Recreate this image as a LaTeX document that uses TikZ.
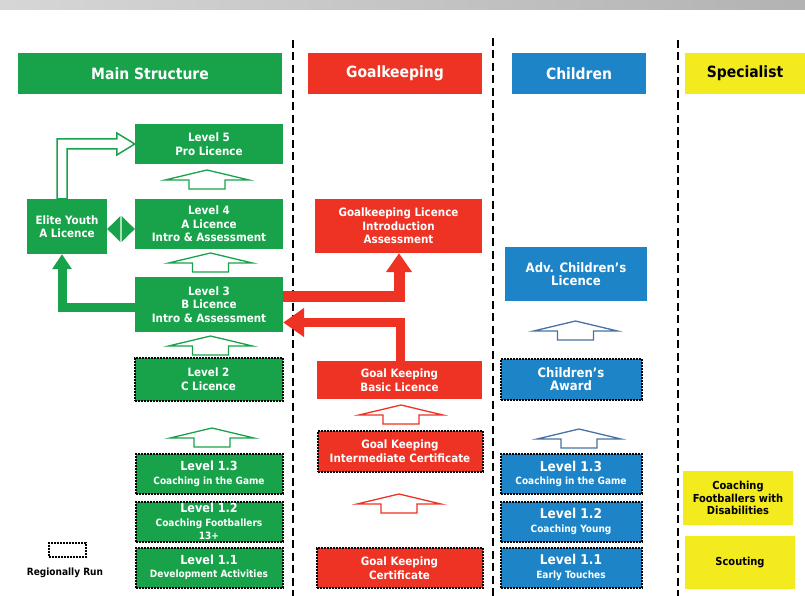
\documentclass[tikz,border=0pt]{standalone}
\usepackage{fontspec}
\setmainfont{DejaVu Sans Condensed}
\usetikzlibrary{arrows.meta,calc}
\definecolor{gcol}{RGB}{24,163,74}
\definecolor{rcol}{RGB}{238,50,36}
\definecolor{bcol}{RGB}{28,132,199}
\definecolor{ycol}{RGB}{243,235,30}
\definecolor{barrow}{RGB}{70,115,165}
\newcommand{\smtxt}{\fontsize{10}{11.5}\selectfont}
\newcommand{\bigtxt}{\fontsize{13}{14.5}\selectfont}
\tikzset{
  box/.style={rectangle, inner sep=0pt, align=center, text=white,
    font=\bfseries\fontsize{11.5}{13.5}\selectfont},
  gbox/.style={box, fill=gcol},
  rbox/.style={box, fill=rcol},
  bbox/.style={box, fill=bcol},
  ybox/.style={box, fill=ycol, text=black},
  reg/.style={draw=black, line width=2pt, dash pattern=on 2pt off 1pt},
  hdr/.style={rectangle, inner sep=0pt, minimum height=41pt, text=white,
    font=\bfseries\fontsize{15.5}{18}\selectfont},
  sepline/.style={line width=2.4pt, dash pattern=on 8pt off 4.5pt},
  uparr/.pic={\draw[line width=1.3pt, fill=white, line join=miter]
    (0,0) -- (42,10) -- (18,10) -- (18,19) -- (-18,19) -- (-18,10) -- (-42,10) -- cycle;}
}
\begin{document}
\begin{tikzpicture}[x=1pt,y=-1pt]
\useasboundingbox (0,0) rectangle (805,596);
% top bar
\shade[left color=gray!32, right color=gray!60] (0,0) rectangle (805,9.5);
% separators
\draw[sepline] (293,40) -- (293,596);
\draw[sepline] (493,38) -- (493,596);
\draw[sepline] (678,40) -- (678,596);
% headers
\node[hdr, fill=gcol, minimum width=264pt] (HM) at (150,73.5) {Main Structure};
\node[hdr, fill=rcol, minimum width=174pt] (HG) at (395,73.5) {Goalkeeping};
\node[hdr, fill=bcol, minimum width=134pt] (HC) at (579,73.5) {Children};
\node[hdr, fill=ycol, minimum width=120pt, text=black] (HS) at (745,73.5) {Specialist};
% main structure
\node[gbox, minimum width=148pt, minimum height=40pt] (L5) at (209,144) {Level 5\\Pro Licence};
\node[gbox, minimum width=148pt, minimum height=50pt] (L4) at (209,224) {Level 4\\A Licence\\Intro \& Assessment};
\node[gbox, minimum width=148pt, minimum height=55pt] (L3) at (209,304.5) {Level 3\\B Licence\\Intro \& Assessment};
\node[gbox, minimum width=80pt, minimum height=55pt] (EY) at (67,226.5) {Elite Youth\\A Licence};
\node[gbox, reg, minimum width=148pt, minimum height=43pt] (L2) at (208.5,379) {Level 2\\C Licence};
\node[gbox, reg, minimum width=147pt, minimum height=40pt] (L13) at (209,474) {{\fontsize{12.5}{14}\selectfont Level 1.3}\\{\smtxt Coaching in the Game}};
\node[gbox, reg, minimum width=147pt, minimum height=40pt] (L12) at (209,521.5) {{\fontsize{12.5}{13}\selectfont Level 1.2}\\{\smtxt Coaching Footballers}\\{\smtxt 13+}};
\node[gbox, reg, minimum width=147pt, minimum height=40pt] (L11) at (209,567.5) {{\fontsize{12.5}{14}\selectfont Level 1.1}\\{\smtxt Development Activities}};
% goalkeeping
\node[rbox, minimum width=167pt, minimum height=54pt] (GKL) at (398.5,226) {Goalkeeping Licence\\Introduction\\Assessment};
\node[rbox, minimum width=165pt, minimum height=38pt] (GKB) at (399.5,380) {Goal Keeping\\Basic Licence};
\node[rbox, reg, minimum width=165pt, minimum height=41pt] (GKI) at (400,451) {Goal Keeping\\Intermediate Certificate};
\node[rbox, reg, minimum width=166pt, minimum height=40pt] (GKC) at (399.5,568) {Goal Keeping\\Certificate};
% children
\node[bbox, minimum width=142pt, minimum height=54pt] (ADV) at (576,274) {{\bigtxt Adv. Children’s}\\{\bigtxt Licence}};
\node[bbox, reg, minimum width=141pt, minimum height=41pt] (AW) at (571,379) {{\bigtxt Children’s}\\{\bigtxt Award}};
\node[bbox, reg, minimum width=141pt, minimum height=40pt] (C13) at (571,474) {{\fontsize{13.5}{15}\selectfont Level 1.3}\\{\smtxt Coaching in the Game}};
\node[bbox, reg, minimum width=141pt, minimum height=40pt] (C12) at (571,521.5) {{\fontsize{13.5}{15}\selectfont Level 1.2}\\{\smtxt Coaching Young}};
\node[bbox, reg, minimum width=141pt, minimum height=40pt] (C11) at (571,567.5) {{\fontsize{13.5}{15}\selectfont Level 1.1}\\{\smtxt Early Touches}};
% specialist
\node[ybox, minimum width=110pt, minimum height=54pt, font=\bfseries\fontsize{11}{12.5}\selectfont] (DIS) at (738,498) {Coaching\\Footballers with\\Disabilities};
\node[ybox, minimum width=110pt, minimum height=53pt, font=\bfseries\fontsize{11}{12.5}\selectfont] (SC) at (740,562.5) {Scouting};
% legend
\node[reg, rectangle, minimum width=37pt, minimum height=14pt, inner sep=0pt] (LEG) at (67.5,549.5) {};
\node[font=\bfseries\fontsize{10}{12}\selectfont, inner sep=0pt] (LEGT) at (65,573) {Regionally Run};
% block up arrows
\pic[color=gcol] at (207,170) {uparr};
\pic[color=gcol] at (210.5,253) {uparr};
\pic[color=gcol] at (210.5,336) {uparr};
\pic[color=gcol] at (212,428) {uparr};
\pic[color=rcol] at (401,405) {uparr};
\pic[color=rcol] at (399,494) {uparr};
\pic[color=barrow] at (575.5,321) {uparr};
\pic[color=barrow] at (579,429) {uparr};
% elite <-> level 4 connector
\fill[gcol] ([yshift=-2.5pt]EY.east) -- ++(13.2,-13) -- ++(0,26) -- cycle;
\fill[gcol] ([yshift=-5pt]L4.west) -- ++(-13.2,-13) -- ++(0,26) -- cycle;
% elite -> level 5 hollow arrow
\draw[gcol, line width=1.5pt, fill=white, line join=miter]
  ([xshift=-10pt]EY.north) |- ($(L5.west)+(-18,-5)$) -- ($(L5.west)+(-18,-11)$)
  -- (L5.west) -- ($(L5.west)+(-18,11)$) -- ($(L5.west)+(-18,5)$) -| (EY.north) -- cycle;
% level 3 -> elite
\draw[gcol, line width=9pt, line join=miter, -{Triangle[width=19pt,length=15pt]}]
  ([yshift=-3pt]L3.west) -| ([xshift=-5pt]EY.south);
% level 3 -> GK licence
\draw[rcol, line width=11pt, line join=miter, -{Triangle[width=25pt,length=19pt]}]
  ([yshift=8pt]L3.east) -| ([xshift=0.5pt]GKL.south);
% GK basic -> level 3
\draw[rcol, line width=9pt, line join=miter, -{Triangle[width=28pt,length=21pt]}]
  ([xshift=1pt]GKB.north) |- ([yshift=-18pt]L3.east);
\end{tikzpicture}
\end{document}
